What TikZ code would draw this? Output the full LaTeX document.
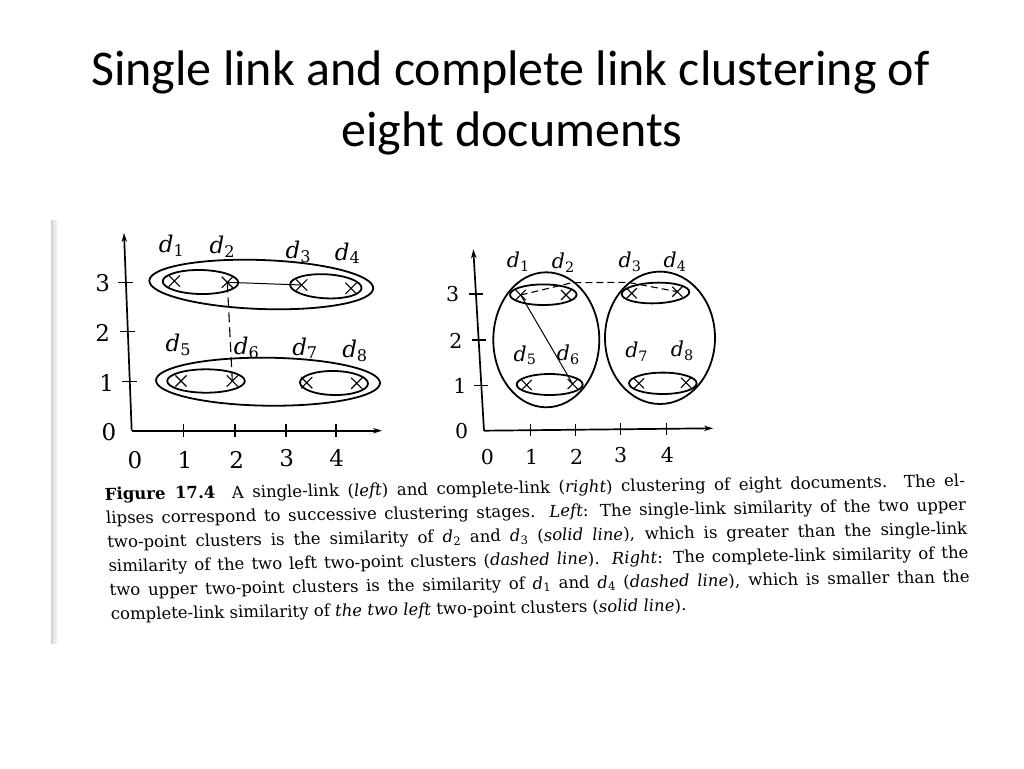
\documentclass[tikz,border=0pt]{standalone}
\usepackage{fontspec}
\newfontfamily\titlefont{Carlito}
\newfontfamily\capfont{DejaVu Serif}
\usetikzlibrary{arrows.meta,shapes.misc}
\newcommand{\dd}[1]{\textit{d}\textsubscript{#1}}
\tikzset{
  axis/.style={line width=1.7pt, -{Stealth[length=9pt,width=5.5pt]}},
  tick/.style={line width=1.5pt},
  ell/.style={line width=1.8pt},
  link/.style={line width=1pt},
  dlink/.style={line width=1.1pt, dash pattern=on 8pt off 5pt},
  xmarkL/.style={cross out, draw, line width=1.1pt, minimum size=10pt, inner sep=0pt},
  xmarkR/.style={cross out, draw, line width=1.1pt, minimum size=9pt, inner sep=0pt},
  labL/.style={inner sep=0pt, font=\capfont\fontsize{23}{28}\selectfont},
  labR/.style={inner sep=0pt, font=\capfont\fontsize{20.5}{25}\selectfont},
  ttl/.style={inner sep=0pt, anchor=base, font=\titlefont\fontsize{50}{60}\selectfont}
}
\begin{document}
\begin{tikzpicture}[x=1pt, y=-1pt]
\useasboundingbox (0,0) rectangle (1024,768);
\fill[white] (0,0) rectangle (1024,768);
% photo left edge
\shade[left color=gray!35, right color=white] (51,220) rectangle (58,643);

% title
\node[ttl] (t1) at (510.5,85) {Single link and complete link clustering of};
\node[ttl] (t2) at (512,146) {eight documents};

% ================= left plot =================
\coordinate (LO) at (131.7,430.7);
\coordinate (LY) at (124,233);
\coordinate (LX) at (382,430.7);
\draw[axis] (LO) -- (LY);
\draw[axis] (LO) -- (LX);
% y ticks
\draw[tick] (118.4,282.7) -- (133.4,282.7);
\draw[tick] (120.3,331.7) -- (135.3,331.7);
\draw[tick] (122.3,381.7) -- (137.3,381.7);
% x ticks
\draw[tick] (183.3,424) -- (183.3,437.4);
\draw[tick] (235,424) -- (235,437.4);
\draw[tick] (286,424) -- (286,437.4);
\draw[tick] (336,424) -- (336,437.4);
% tick labels
\node[labL] (ly3) at (102.7,283) {3};
\node[labL] (ly2) at (102.7,333) {2};
\node[labL] (ly1) at (106.7,383) {1};
\node[labL] (ly0) at (109,432) {0};
\node[labL] (lx0) at (135,460) {0};
\node[labL] (lx1) at (185,460) {1};
\node[labL] (lx2) at (236.7,460) {2};
\node[labL] (lx3) at (286.7,458) {3};
\node[labL] (lx4) at (336.7,458) {4};
% points
\node[xmarkL] (L1) at (174.3,281) {};
\node[xmarkL] (L2) at (227.3,282.3) {};
\node[xmarkL] (L3) at (301.7,285) {};
\node[xmarkL] (L4) at (351,288.3) {};
\node[xmarkL] (L5) at (181,381) {};
\node[xmarkL] (L6) at (232.3,381) {};
\node[xmarkL] (L7) at (306.7,382.7) {};
\node[xmarkL] (L8) at (356.7,383.3) {};
% labels
\node[labL] (ld1) at (171.7,246) {\dd{1}};
\node[labL] (ld2) at (222.3,246.7) {\dd{2}};
\node[labL] (ld3) at (298.3,251.7) {\dd{3}};
\node[labL] (ld4) at (347.7,253.3) {\dd{4}};
\node[labL] (ld5) at (178.3,345) {\dd{5}};
\node[labL] (ld6) at (246.7,347.7) {\dd{6}};
\node[labL] (ld7) at (305,348.3) {\dd{7}};
\node[labL] (ld8) at (355,351) {\dd{8}};
% ellipses
\draw[ell] (200.5,282) ellipse [x radius=37.8pt, y radius=12pt, rotate=-1];
\draw[ell] (325.8,286.3) ellipse [x radius=35.8pt, y radius=12pt, rotate=-3];
\draw[ell] (261.3,284.5) ellipse [x radius=112pt, y radius=24.5pt, rotate=-2];
\draw[ell] (206,381) ellipse [x radius=38.8pt, y radius=11.7pt];
\draw[ell] (334,383) ellipse [x radius=34pt, y radius=12pt, rotate=-1];
\draw[ell] (268,381.7) ellipse [x radius=112pt, y radius=24pt, rotate=-0.7];
% links
\draw[link] (L2.center) -- (L3.center);
\draw[dlink, dash pattern=on 10pt off 5pt] (L2.center) -- (L6.center);

% ================= right plot =================
\coordinate (RO) at (484,430.7);
\coordinate (RY) at (473.3,249.3);
\coordinate (RX) at (713,428.3);
\draw[axis] (RO) -- (RY);
\draw[axis] (RO) -- (RX);
% y ticks
\draw[tick] (468.9,294) -- (482.9,294);
\draw[tick] (471.6,340) -- (485.6,340);
\draw[tick] (474.3,385.7) -- (488.3,385.7);
% x ticks
\draw[tick] (530.7,424.2) -- (530.7,436.2);
\draw[tick] (575.7,423.7) -- (575.7,435.7);
\draw[tick] (620.7,423.3) -- (620.7,435.3);
\draw[tick] (666.7,422.8) -- (666.7,434.8);
% tick labels
\node[labR] (ry3) at (452.7,294) {3};
\node[labR] (ry2) at (456,340.7) {2};
\node[labR] (ry1) at (460,385.7) {1};
\node[labR] (ry0) at (461.7,430.7) {0};
\node[labR] (rx0) at (487.3,457.3) {0};
\node[labR] (rx1) at (531.7,457.3) {1};
\node[labR] (rx2) at (576.7,456.7) {2};
\node[labR] (rx3) at (620.7,455) {3};
\node[labR] (rx4) at (667.3,455) {4};
% points
\node[xmarkR] (R1) at (520.7,295) {};
\node[xmarkR] (R2) at (566,295) {};
\node[xmarkR] (R3) at (631.7,293.3) {};
\node[xmarkR] (R4) at (677.3,291.7) {};
\node[xmarkR] (R5) at (526.7,385) {};
\node[xmarkR] (R6) at (572.7,384) {};
\node[xmarkR] (R7) at (639,383.3) {};
\node[xmarkR] (R8) at (686,382.7) {};
% labels
\node[labR] (rd1) at (518.3,261.7) {\dd{1}};
\node[labR] (rd2) at (563.3,262.7) {\dd{2}};
\node[labR] (rd3) at (630,261.7) {\dd{3}};
\node[labR] (rd4) at (675,261.7) {\dd{4}};
\node[labR] (rd5) at (525,355) {\dd{5}};
\node[labR] (rd6) at (568.3,355) {\dd{6}};
\node[labR] (rd7) at (636.7,351.7) {\dd{7}};
\node[labR] (rd8) at (682.3,350.7) {\dd{8}};
% ellipses
\draw[ell] (543.3,294.7) ellipse [x radius=33.3pt, y radius=10.3pt];
\draw[ell] (655.5,293) ellipse [x radius=33.8pt, y radius=10.3pt, rotate=2];
\draw[ell] (549.7,384.5) ellipse [x radius=33pt, y radius=10.5pt];
\draw[ell] (662.8,383.3) ellipse [x radius=33.8pt, y radius=10.7pt];
\draw[ell] (546.3,339.8) ellipse [x radius=53pt, y radius=67.5pt];
\draw[ell] (660,337.8) ellipse [x radius=55pt, y radius=66.2pt];
% links
\coordinate (rk1) at (572,282.7);
\coordinate (rk2) at (628,282.3);
\draw[link] (R1.center) -- (R6.center);
\draw[dlink, dash pattern=on 7pt off 4pt] (R1.center) -- (rk1) -- (rk2) -- (R4.center);

% ================= caption =================
\node[anchor=base west, inner sep=0pt, rotate=0.9, xslant=-0.034] (cap) at (105,500) {%
\parbox[t]{860pt}{\capfont\fontsize{16.5}{24}\selectfont
\hbox to 860pt{\textbf{Figure 17.4}\quad A single-link (\textit{left}) and complete-link (\textit{right}) clustering of eight documents. The el-}
\hbox to 860pt{lipses correspond to successive clustering stages. \textit{Left}: The single-link similarity of the two upper}
\hbox to 860pt{two-point clusters is the similarity of \dd{2} and \dd{3} (\textit{solid line}), which is greater than the single-link}
\hbox to 860pt{similarity of the two left two-point clusters (\textit{dashed line}). \textit{Right}: The complete-link similarity of the}
\hbox to 860pt{two upper two-point clusters is the similarity of \dd{1} and \dd{4} (\textit{dashed line}), which is smaller than the}
\hbox{complete-link similarity of \textit{the two left} two-point clusters (\textit{solid line}).}}};
\end{tikzpicture}
\end{document}
